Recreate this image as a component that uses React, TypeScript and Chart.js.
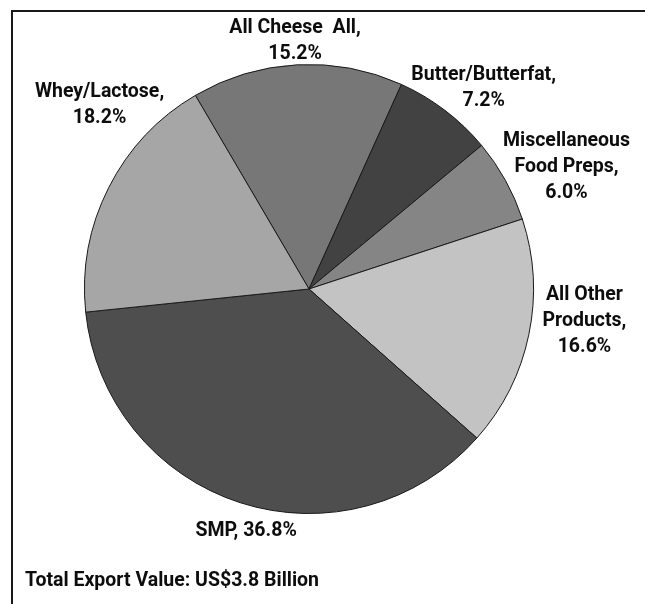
import React, { useEffect, useRef } from "react";
import { Chart, registerables } from "chart.js";

Chart.register(...registerables);

const categories = [
  "All Cheese  All",
  "Butter/Butterfat",
  "Miscellaneous Food Preps",
  "All Other Products",
  "SMP",
  "Whey/Lactose",
];
const shares = [15.2, 7.2, 6.0, 16.6, 36.8, 18.2];
const sliceColors = ["#777777", "#424242", "#858585", "#c3c3c3", "#4e4e4e", "#a6a6a6"];
const noteText = "Total Export Value: US$3.8 Billion";

// how each category name is wrapped, and whether the percent goes on its own line
const nameLines = [
  ["All Cheese  All"],
  ["Butter/Butterfat"],
  ["Miscellaneous", "Food Preps"],
  ["All Other", "Products"],
  ["SMP"],
  ["Whey/Lactose"],
];
const percentOwnLine = [true, true, true, true, false, true];

const FONT = "bold 19.5px Roboto, 'Liberation Sans', sans-serif";
const LINE_H = 26;

const labelPlugin = {
  id: "sliceLabels",
  afterDatasetsDraw(chart: any, _args: any, opts: any) {
    const ctx = chart.ctx as CanvasRenderingContext2D;
    const meta = chart.getDatasetMeta(0);
    const layout = opts.layout as number[][];
    ctx.save();
    ctx.font = FONT;
    ctx.fillStyle = "#0d0d0d";
    ctx.textAlign = "center";
    ctx.textBaseline = "middle";
    meta.data.forEach((arc: any, i: number) => {
      const { x, y, outerRadius } = arc.getProps(["x", "y", "outerRadius"], true);
      const cx = x + layout[i][0] * outerRadius;
      const cy = y + layout[i][1] * outerRadius;
      const pct = shares[i].toFixed(1) + "%";
      const lines = nameLines[i].slice();
      lines[lines.length - 1] = lines[lines.length - 1] + ",";
      if (percentOwnLine[i]) lines.push(pct);
      else lines[lines.length - 1] = lines[lines.length - 1] + " " + pct;
      const top = cy - ((lines.length - 1) * LINE_H) / 2;
      lines.forEach((t, k) => ctx.fillText(t, cx, top + k * LINE_H));
    });
    ctx.restore();
  },
};

const framePlugin = {
  id: "frameNote",
  beforeDraw(chart: any) {
    const ctx = chart.ctx as CanvasRenderingContext2D;
    ctx.save();
    ctx.fillStyle = "#ffffff";
    ctx.fillRect(0, 0, chart.width, chart.height);
    ctx.strokeStyle = "#1a1a1a";
    ctx.lineWidth = 2;
    ctx.beginPath();
    ctx.moveTo(12, chart.height);
    ctx.lineTo(12, 11);
    ctx.lineTo(chart.width, 11);
    ctx.stroke();
    ctx.restore();
  },
  afterDraw(chart: any) {
    const ctx = chart.ctx as CanvasRenderingContext2D;
    ctx.save();
    ctx.font = FONT;
    ctx.fillStyle = "#0d0d0d";
    ctx.textAlign = "left";
    ctx.textBaseline = "middle";
    ctx.fillText(noteText, 25, 581);
    ctx.restore();
  },
};

export default function App() {
  const ref = useRef<HTMLCanvasElement | null>(null);
  useEffect(() => {
    if (!ref.current) return;
    const chart = new Chart(ref.current, {
      type: "pie",
      data: {
        labels: categories,
        datasets: [
          {
            data: shares,
            backgroundColor: sliceColors,
            borderColor: "#1a1a1a",
            borderWidth: 1,
          },
        ],
      },
      options: {
        animation: false,
        responsive: false,
        rotation: -30.4,
        layout: { padding: { left: 84, right: 111, top: 64, bottom: 90 } },
        plugins: {
          legend: { display: false },
          tooltip: { enabled: false },
          sliceLabels: {
            layout: [
              [-0.062, -1.103],
              [0.778, -0.893],
              [1.147, -0.544],
              [1.227, 0.142],
              [-0.28, 1.078],
              [-0.933, -0.82],
            ],
          },
        } as any,
      },
      plugins: [framePlugin, labelPlugin],
    });
    return () => chart.destroy();
  }, []);
  return (
    <div style={{ position: "fixed", left: 0, top: 0, width: 645, height: 604, background: "#fff" }}>
      <canvas ref={ref} width={645} height={604} style={{ width: 645, height: 604, display: "block" }} />
    </div>
  );
}
